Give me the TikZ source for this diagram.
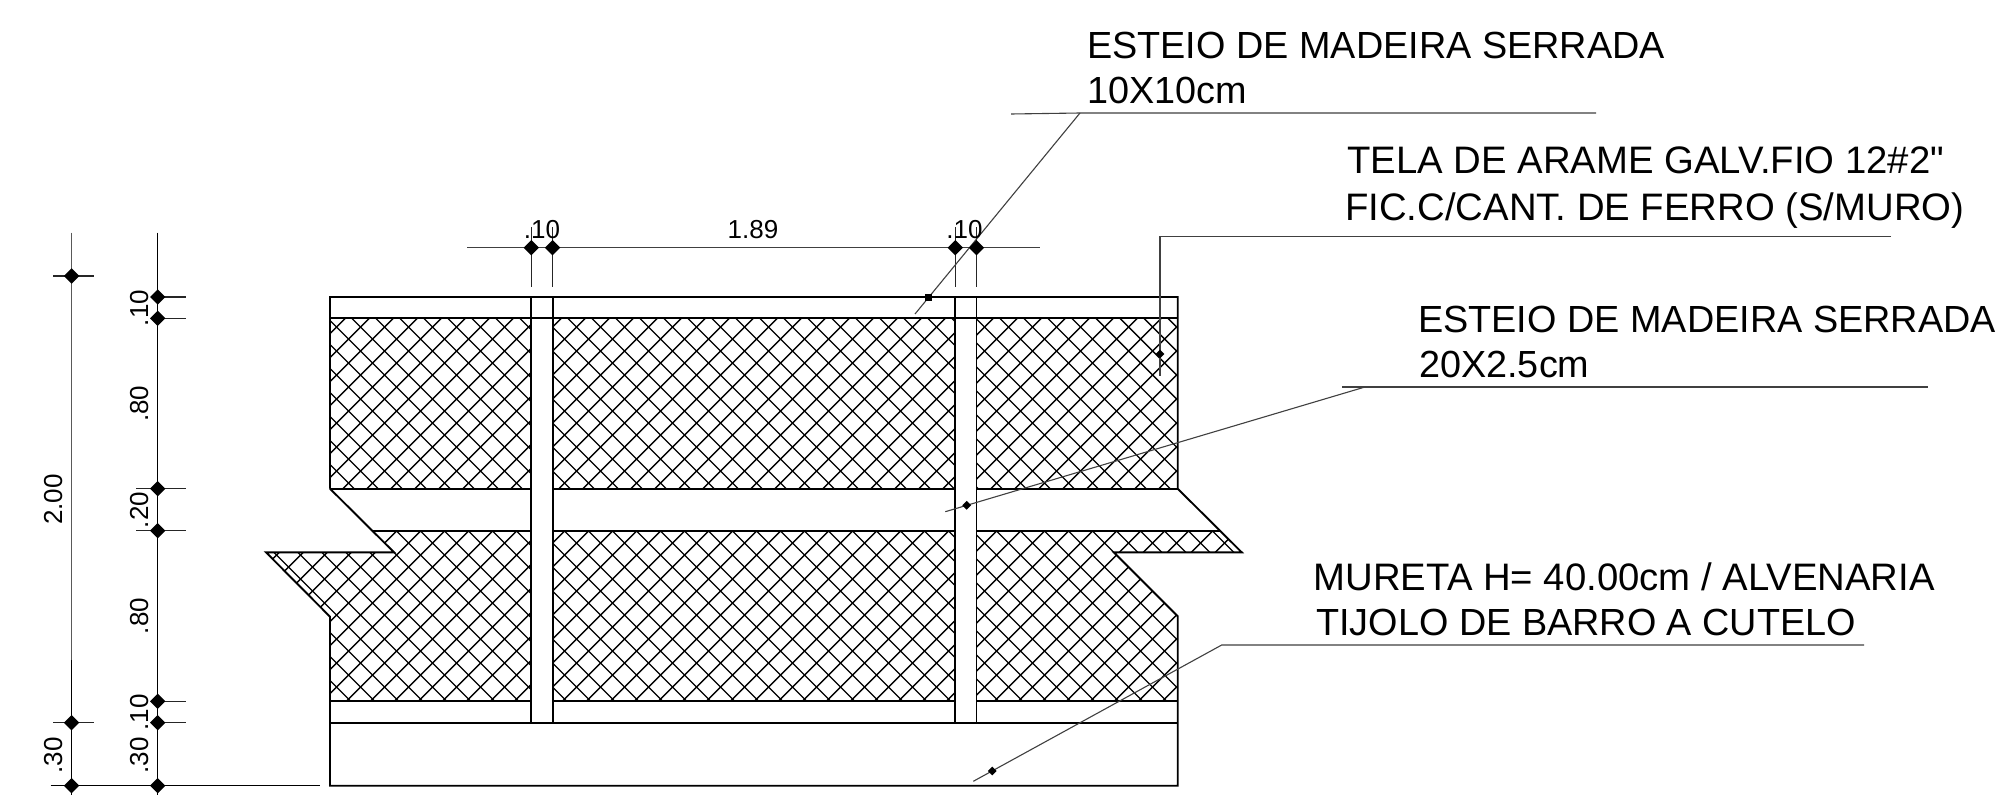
\documentclass[tikz,border=0pt]{standalone}
\usepackage{fontspec}
\setmainfont{Liberation Sans}
\newfontfamily\plainfont{Liberation Sans}
\usetikzlibrary{shapes.geometric}
\pgfdeclarelayer{lines}
\pgfsetlayers{lines,main}
\tikzset{
  wall/.style={line width=1.9pt,black},
  hatchline/.style={line width=1.4pt,black},
  dimline/.style={line width=1.1pt,black!85},
  leader/.style={line width=1.1pt,black!75},
  tick/.style={diamond,fill=black,draw=none,inner sep=0pt,minimum size=15.5pt},
  dot/.style={diamond,fill=black,draw=none,inner sep=0pt,minimum size=9pt},
  note/.style={anchor=base west,inner sep=0pt,font=\fontsize{37.8pt}{40pt}\selectfont},
  widenote/.style={anchor=base west,inner sep=0pt,font=\fontsize{38.3pt}{40pt}\selectfont},
  dimtext/.style={anchor=base,inner sep=0pt,font=\fontsize{26pt}{28pt}\selectfont},
  vdimtext/.style={dimtext,rotate=90}
}
\newcommand{\hatchlines}{%
  \foreach \k in {0,...,80} {
    \draw[hatchline] ({615.7+24*\k-300},300) -- ({615.7+24*\k-800},800);
    \draw[hatchline] ({-518.5+24*\k+300},300) -- ({-518.5+24*\k+800},800);
  }}
\begin{document}
\begin{tikzpicture}[x=1pt,y=-1pt]
\useasboundingbox (0,0) rectangle (1998,797);
\begin{pgfonlayer}{lines}
\fill[white] (0,0) rectangle (1998,797);
% hatching
\begin{scope}
\clip (330,318.3) rectangle (531.3,488.7) (552.6,318.3) rectangle (955.3,488.7) (976.5,318.3) rectangle (1177.7,488.7);
\hatchlines
\end{scope}
\begin{scope}
\clip (330,701.3) -- (330,616.7) -- (266,552.3) -- (394,552.3) -- (373,530.7) -- (531.3,530.7) -- (531.3,701.3) -- cycle
 (552.6,530.7) rectangle (955.3,701.3)
 (976.5,530.7) -- (1220,530.7) -- (1241.7,552.3) -- (1113.8,552.3) -- (1177.7,616.2) -- (1177.7,701.3) -- (976.5,701.3) -- cycle;
\hatchlines
\end{scope}
% wall outline
\draw[wall,line join=miter] (330,488.7) -- (330,297) -- (1177.7,297) -- (1177.7,488.7) -- (1241.7,552.3) -- (1113.8,552.3) -- (1177.7,616.2) -- (1177.7,785.7) -- (330,785.7) -- (330,616.7) -- (266,552.3) -- (394,552.3) -- (330,488.7);
\draw[wall] (330,318.3) -- (1177.7,318.3);
\draw[wall] (330,722.7) -- (1177.7,722.7);
\foreach \a/\b in {330/531.3,552.6/955.3,976.5/1177.7} {
  \draw[wall] (\a,488.7) -- (\b,488.7);
  \draw[wall] (\a,701.3) -- (\b,701.3);
}
\foreach \a/\b in {373/531.3,552.6/955.3,976.5/1220} \draw[wall] (\a,530.7) -- (\b,530.7);
\foreach \x in {531.3,552.6,955.3,976.5} \draw[wall] (\x,297) -- (\x,722.7);
\end{pgfonlayer}
% left dimensions
\coordinate (lt) at (71.6,232.7);
\coordinate (lb) at (71.6,795);
\coordinate (lm) at (71.6,660);
\node[tick] (l1) at (71.6,276) {};
\node[tick] (l2) at (71.6,722.7) {};
\node[tick] (l3) at (71.6,785.7) {};
\coordinate (mt) at (157.7,232.7);
\coordinate (mb) at (157.7,795);
\coordinate (wl) at (319.5,785.7);
\coordinate (wr) at (50.5,785.7);
\coordinate (ta) at (467,247.7);
\coordinate (tb) at (1040,247.7);
\node[tick] (mg) at (157.7,785.7) {};
\begin{pgfonlayer}{lines}
\draw[dimline,black!65] (lt) -- (lb);
\draw[dimline,black] (lm) -- (lb);
\draw[dimline] (53,276) -- (94,276);
\draw[dimline] (53,722.7) -- (94,722.7);
\draw[dimline,black] (mt) -- (mb);
\draw[dimline,black] (wr) -- (wl);
\draw[dimline,black!75] (ta) -- (tb);
\end{pgfonlayer}
\foreach \n/\y in {a/297,b/318.3,e/701.3,f/722.7} {
  \node[tick] (m\n) at (157.7,\y) {};
  \begin{pgfonlayer}{lines}
  \draw[dimline] (m\n.center) -- (185.6,\y);
  \end{pgfonlayer}
}
\foreach \n/\y in {c/488.7,d/530.7} {
  \node[tick] (m\n) at (157.7,\y) {};
  \begin{pgfonlayer}{lines}
  \draw[dimline] (136,\y) -- (185.6,\y);
  \end{pgfonlayer}
}
% top dimension
\foreach \n/\x in {p/531.3,q/552.6,r/955.3,s/976.5} {
  \node[tick] (t\n) at (\x,247.7) {};
  \begin{pgfonlayer}{lines}
  \draw[dimline] (\x,227) -- (\x,286.7);
  \end{pgfonlayer}
}
% dimension texts
\node[dimtext] (d110a) at (542,238) {.10};
\node[dimtext] (d189) at (753,238) {1.89};
\node[dimtext] (d110b) at (964.5,238) {.10};
\node[vdimtext] (v200) at (62,499.6) {2.00};
\node[vdimtext] (v30a) at (62,755.5) {.30};
\node[vdimtext] (v10a) at (148,308) {.10};
\node[vdimtext] (v80a) at (148,403.8) {.80};
\node[vdimtext] (v20) at (148,510) {.20};
\node[vdimtext] (v80b) at (148,616) {.80};
\node[vdimtext] (v10b) at (148,712.5) {.10};
\node[vdimtext] (v30b) at (148,755.5) {.30};
% leaders
\coordinate (c1) at (1080,113);
\coordinate (c1l) at (1011,114);
\coordinate (c1r) at (1596,113);
\coordinate (e1) at (915,314);
\node[rectangle,fill=black,inner sep=0pt,minimum size=7pt] (k1) at (928.7,297) {};
\coordinate (c2) at (1160,236.7);
\coordinate (c2r) at (1891,236.7);
\coordinate (e2) at (1160,375.7);
\node[dot] (k2) at (1160,354) {};
\coordinate (c3) at (1365,387);
\coordinate (c3l) at (1342,387);
\coordinate (c3r) at (1928,387);
\coordinate (e3) at (945.3,511.7);
\node[dot] (k3) at (966.7,505.3) {};
\coordinate (c4) at (1221.7,645);
\coordinate (c4r) at (1864,645);
\coordinate (e4) at (973.3,781.3);
\node[dot] (k4) at (992.3,771) {};
\begin{pgfonlayer}{lines}
\draw[leader] (c1l) -- (c1) -- (c1r);
\draw[leader] (c1) -- (e1);
\draw[leader] (c2r) -- (c2) -- (e2);
\draw[leader] (c3l) -- (c3r);
\draw[leader] (c3) -- (e3);
\draw[leader] (c4r) -- (c4) -- (e4);
\end{pgfonlayer}
% notes
\node[note] (n1) at (1087,58.6) {ESTEIO DE MADEIRA SERRADA};
\node[note] (n1b) at (1087,104) {10X10cm};
\node[widenote] (n2) at (1347,173.5) {TELA DE ARAME GALV.FIO 12\#2{\plainfont "}};
\node[widenote] (n2b) at (1345,220) {FIC.C/CANT. DE FERRO (S/MURO)};
\node[note] (n3) at (1418,332.5) {ESTEIO DE MADEIRA SERRADA};
\node[note] (n3b) at (1419,377) {20X2.5cm};
\node[widenote] (n4) at (1313.5,590) {MURETA H= 40.00cm / ALVENARIA};
\node[note] (n4b) at (1316,635) {TIJOLO DE BARRO A CUTELO};
\end{tikzpicture}
\end{document}
